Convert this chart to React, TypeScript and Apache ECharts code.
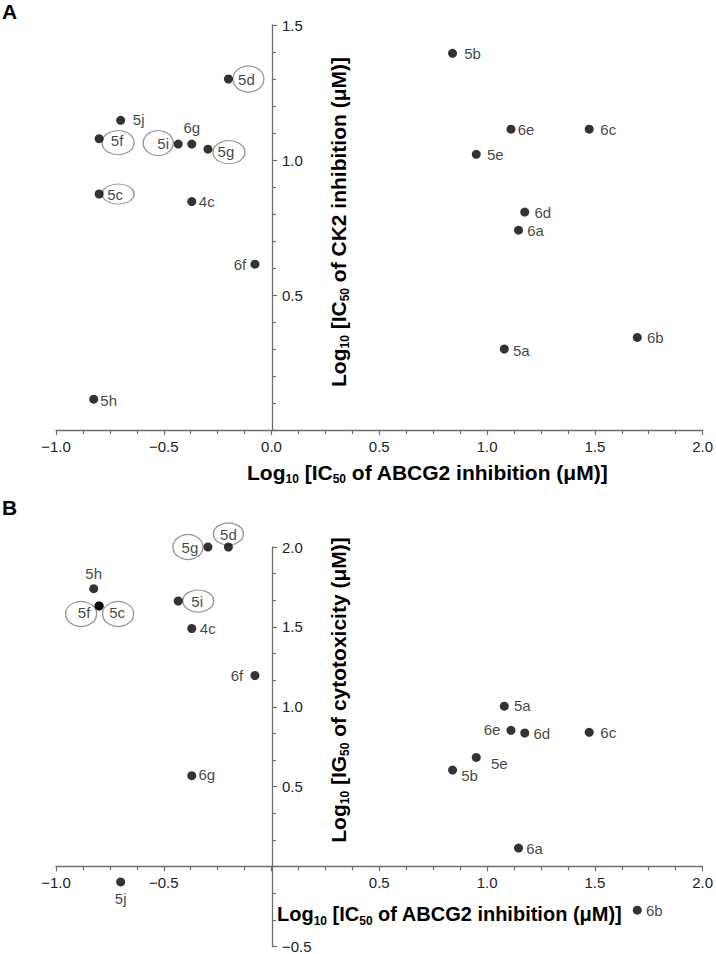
import React, { useEffect, useRef } from 'react';
import * as echarts from 'echarts';

// ---- data ----
const compounds = ['4c', '5a', '5b', '5c', '5d', '5e', '5f', '5g', '5h', '5i', '5j', '6a', '6b', '6c', '6d', '6e', '6f', '6g'];
// Log10 [IC50 of ABCG2 inhibition (uM)]
const abcg2 = [-0.37, 1.08, 0.84, -0.8, -0.2, 0.95, -0.8, -0.295, -0.825, -0.433, -0.7, 1.146, 1.697, 1.474, 1.175, 1.111, -0.077, -0.37];
// Log10 [IC50 of CK2 inhibition (uM)]
const ck2 = [0.846, 0.3, 1.395, 0.874, 1.3, 1.021, 1.079, 1.04, 0.114, 1.059, 1.147, 0.74, 0.343, 1.114, 0.807, 1.114, 0.614, 1.059];
// Log10 [IG50 of cytotoxicity (uM)]
const ig50 = [1.49, 1.004, 0.604, 1.631, 2.0, 0.683, 1.631, 2.0, 1.739, 1.662, -0.096, 0.116, -0.273, 0.84, 0.836, 0.853, 1.196, 0.569];
const circled = ['5c', '5d', '5f', '5g', '5i'];

const xTicks = { min: -1, max: 2, step: 0.5 };
const yTicksA = { min: 0, max: 1.5, step: 0.5 };
const yTicksB = { min: -0.5, max: 2, step: 0.5 };

// ---- styling / layout (label offsets from dot centre, ellipse placement) ----
const labelOffsetA: Record<string, [number, number]> = {
  '5d': [18, 0], '5j': [18, -1], '5f': [18, 2], '5i': [-15, -1], '6g': [0, -17], '5g': [18, 2],
  '5c': [16, 0], '4c': [15, 0], '6f': [-15, 0], '5h': [15, 1], '5b': [20, 0], '6e': [15, 0],
  '6c': [19, 0], '5e': [19, 0], '6d': [18, 0], '6a': [17, 0], '5a': [17, 1], '6b': [18, 0],
};
const ellipseA: Record<string, [number, number, number, number]> = {
  '5d': [20, 0, 31, 26], '5f': [19, 4, 32, 24], '5i': [-20, -1, 30, 25], '5g': [21, 3, 32, 23], '5c': [19, 0, 32, 20],
};
const labelOffsetB: Record<string, [number, number]> = {
  '5g': [-18, 0], '5d': [0, -13], '5h': [0, -15], '5f': [-15, 7], '5c': [18, 7], '5i': [19, 0],
  '4c': [16, 0], '6f': [-18, 0], '6g': [15, -1], '5j': [0, 17], '5a': [18, -1], '6e': [-19, -1],
  '6d': [17, 0], '6c': [19, 0], '5e': [23, 6], '5b': [17, 5], '6a': [16, 0], '6b': [17, 0],
};
const ellipseB: Record<string, [number, number, number, number]> = {
  '5g': [-20, 0, 30, 25], '5d': [0, -13, 30, 22], '5f': [-18, 8, 31, 25], '5c': [19, 8, 31, 25], '5i': [20, 0, 31, 22],
};

const FONT = '"Liberation Sans", Arial, Helvetica, sans-serif';
const AX = '#6e6e6e';

const GRID_LEFT = 56;
const GRID_RIGHT = 12;
const GRID_A = { top: 25, height: 405 };
const GRID_B = { top: 547, height: 401 };
const W = 716;
const H = 954;
const plotW = W - GRID_LEFT - GRID_RIGHT;

const fmt = (hideZero: boolean) => (v: number) =>
  hideZero && Math.abs(v) < 1e-9 ? '' : v.toFixed(1).replace('-', '\u2212');

// pixel offset that moves an axis from the grid edge to the other axis's zero
const yAxisOffset = -((0 - xTicks.min) / (xTicks.max - xTicks.min)) * plotW;
const xAxisOffsetB = -((0 - yTicksB.min) / (yTicksB.max - yTicksB.min)) * GRID_B.height;

function xAxis(gridIndex: number, hideZero: boolean, offset: number) {
  return {
    type: 'value', gridIndex, position: 'bottom', offset, min: xTicks.min, max: xTicks.max, interval: xTicks.step,
    axisLine: { show: true, onZero: false, lineStyle: { color: AX, width: 1.3 } },
    axisTick: { show: true, length: 5, lineStyle: { color: AX, width: 1.2 } },
    minorTick: { show: true, splitNumber: 4, length: 4, lineStyle: { color: AX, width: 1.2 } },
    axisLabel: { fontSize: 15, color: '#222', fontFamily: FONT, margin: 9, formatter: fmt(hideZero) },
    splitLine: { show: false }, minorSplitLine: { show: false },
  };
}
function yAxis(gridIndex: number, t: { min: number; max: number; step: number }, minorSplit: number) {
  return {
    type: 'value', gridIndex, position: 'left', offset: yAxisOffset, min: t.min, max: t.max, interval: t.step,
    axisLine: { show: true, onZero: false, lineStyle: { color: AX, width: 1.3 } },
    axisTick: { show: true, inside: true, length: 5, lineStyle: { color: AX, width: 1.2 } },
    minorTick: { show: true, splitNumber: minorSplit, length: 4, lineStyle: { color: AX, width: 1.2 } },
    axisLabel: { inside: true, fontSize: 15, color: '#222', fontFamily: FONT, margin: 10, formatter: fmt(true) },
    splitLine: { show: false }, minorSplitLine: { show: false },
  };
}

function dotSeries(idx: number, yVals: number[], offsets: Record<string, [number, number]>) {
  return {
    type: 'scatter', xAxisIndex: idx, yAxisIndex: idx, symbol: 'circle', symbolSize: 9, z: 3,
    itemStyle: { color: '#000' },
    data: compounds.map((n, i) => ({
      name: n,
      value: [abcg2[i], yVals[i]],
      label: {
        show: true, position: 'inside', offset: offsets[n] || [16, 0], formatter: '{b}',
        align: 'center', verticalAlign: 'middle', fontSize: 15, color: '#111', fontFamily: FONT,
      },
    })),
  };
}
function ellipseSeries(idx: number, yVals: number[], ell: Record<string, [number, number, number, number]>) {
  return {
    type: 'scatter', xAxisIndex: idx, yAxisIndex: idx, symbol: 'circle', z: 2, silent: true,
    itemStyle: { color: 'rgba(0,0,0,0)', borderColor: '#7a7a7a', borderWidth: 1.2 },
    data: circled.map((n) => {
      const i = compounds.indexOf(n);
      const e = ell[n];
      return { name: n, value: [abcg2[i], yVals[i]], symbolSize: [e[2], e[3]], symbolOffset: [e[0], e[1]] };
    }),
  };
}

const makeRich = (size: number) => ({
  m: { fontSize: size, fontWeight: 'bold', fontFamily: FONT, color: '#111', lineHeight: 26 },
  s: { fontSize: 12, fontWeight: 'bold', fontFamily: FONT, color: '#111', lineHeight: 4, verticalAlign: 'bottom' },
});
const titleRich = makeRich(21);
const titleRichB = makeRich(20);

export default function App() {
  const ref = useRef<HTMLDivElement>(null);
  useEffect(() => {
    if (!ref.current) return;
    const chart = echarts.init(ref.current, undefined, { renderer: 'svg' });
    chart.setOption({
      animation: false,
      backgroundColor: '#fff',
      grid: [
        { left: GRID_LEFT, right: GRID_RIGHT, top: GRID_A.top, height: GRID_A.height, containLabel: false },
        { left: GRID_LEFT, right: GRID_RIGHT, top: GRID_B.top, height: GRID_B.height, containLabel: false },
      ],
      xAxis: [xAxis(0, false, 0), xAxis(1, true, xAxisOffsetB)],
      yAxis: [yAxis(0, yTicksA, 5), yAxis(1, yTicksB, 3)],
      series: [
        ellipseSeries(0, ck2, ellipseA),
        dotSeries(0, ck2, labelOffsetA),
        ellipseSeries(1, ig50, ellipseB),
        dotSeries(1, ig50, labelOffsetB),
      ],
      graphic: [
        { type: 'text', x: 2, y: 1, style: { text: 'A', fontSize: 21, fontWeight: 'bold', fontFamily: FONT, fill: '#000' } },
        { type: 'text', x: 2, y: 497, style: { text: 'B', fontSize: 21, fontWeight: 'bold', fontFamily: FONT, fill: '#000' } },
        {
          type: 'text', x: 247, y: 472,
          style: { text: '{m|Log}{s|10}{m| [IC}{s|50}{m| of ABCG2 inhibition (μM)]}', rich: titleRich, verticalAlign: 'middle', align: 'left' },
        },
        {
          type: 'text', x: 338, y: 222, rotation: Math.PI / 2,
          style: { text: '{m|Log}{s|10}{m| [IC}{s|50}{m| of CK2 inhibition (μM)]}', rich: titleRich, verticalAlign: 'middle', align: 'center' },
        },
        {
          type: 'text', x: 338, y: 690, rotation: Math.PI / 2,
          style: { text: '{m|Log}{s|10}{m| [IG}{s|50}{m| of cytotoxicity (μM)]}', rich: titleRich, verticalAlign: 'middle', align: 'center' },
        },
        {
          type: 'text', x: 277, y: 914,
          style: { text: '{m|Log}{s|10}{m| [IC}{s|50}{m| of ABCG2 inhibition (μM)]}', rich: titleRichB, verticalAlign: 'middle', align: 'left' },
        },
      ],
    });
    return () => chart.dispose();
  }, []);
  return <div ref={ref} style={{ position: 'absolute', left: 0, top: 0, width: W, height: H }} />;
}
